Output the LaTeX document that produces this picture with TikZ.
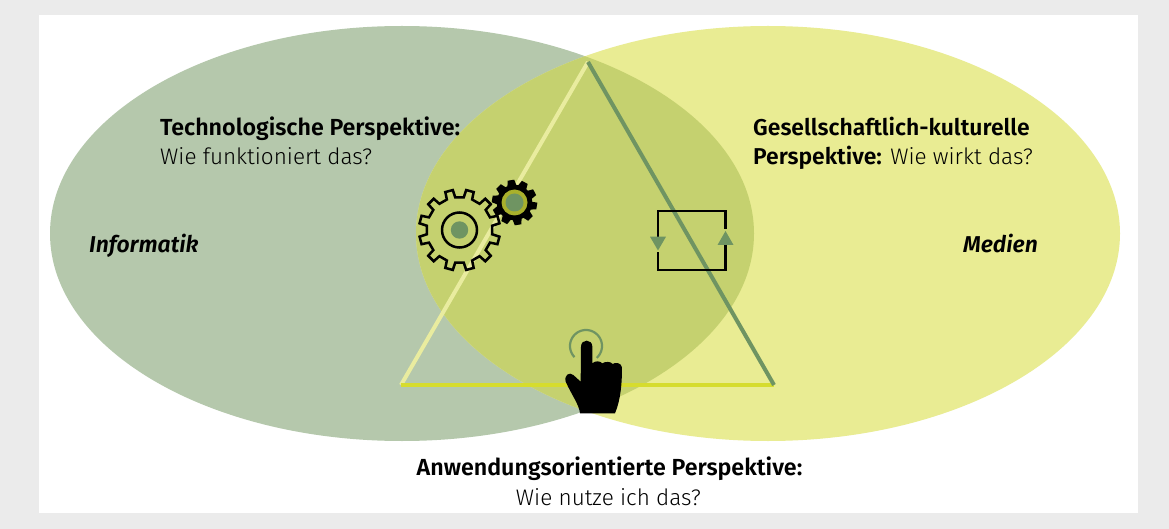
\documentclass[tikz,border=0pt]{standalone}
\usepackage{fontspec}
\setmainfont{Fira Sans Light}[BoldFont={Fira Sans SemiBold},ItalicFont={Fira Sans Light Italic},BoldItalicFont={Fira Sans SemiBold Italic},Ligatures=TeX]
\definecolor{pagebg}{HTML}{EBEBEB}
\definecolor{leftc}{HTML}{B5C8AC}
\definecolor{rightc}{HTML}{E9EC93}
\definecolor{midc}{HTML}{C5D16F}
\definecolor{greenc}{HTML}{6F9462}
\definecolor{triy}{HTML}{D6DC2E}
\definecolor{tril}{HTML}{E9EC9F}
\definecolor{ringc}{HTML}{A9B02C}
\newcommand{\bt}[1]{{\fontsize{22.9}{24}\selectfont\bfseries #1}}
\newcommand{\btw}[1]{{\fontsize{23.25}{24}\selectfont\bfseries #1}}
\tikzset{
 lbl/.style={inner sep=0pt,anchor=base west,font=\fontsize{22.5}{24}\selectfont,text=black},
 lblc/.style={inner sep=0pt,anchor=base,font=\fontsize{22.5}{24}\selectfont,text=black},
 triline/.style={line width=4pt,line cap=butt},
 loopline/.style={line width=2.2pt,black},
 tip/.style={fill=greenc,draw=none},
 gearline/.style={draw=black,line width=2.5pt,line join=miter},
}
\begin{document}
\begin{tikzpicture}[x=1pt,y=-1pt]
\useasboundingbox (0,0) rectangle (1169,529);
\fill[pagebg] (0,0) rectangle (1169,529);
\fill[white] (39,15) rectangle (1138,513);
% ellipses
\fill[leftc] (402,233.5) ellipse [x radius=352,y radius=207.5];
\fill[rightc] (768,233.5) ellipse [x radius=352,y radius=207.5];
\begin{scope}
\clip (402,233.5) ellipse [x radius=352,y radius=207.5];
\fill[midc] (768,233.5) ellipse [x radius=352,y radius=207.5];
\end{scope}
% triangle
\coordinate (top) at (588,62);
\coordinate (bl) at (401,385);
\coordinate (br) at (774,385);
\draw[triline,tril] (bl) -- (top);
\draw[triline,triy] (bl) -- (br);
\draw[triline,greenc] (top) -- (br);
% large gear: 12 teeth
\begin{scope}[shift={(459.5,230)}]
\path[gearline] (7.5:33) \foreach \k in {0,...,11} {
   -- (\k*30+15-5.5:40.5) -- (\k*30+15+5.5:40.5) -- (\k*30+30-7.5:33) -- (\k*30+30+7.5:33) } -- cycle;
\end{scope}
% small gear: 10 teeth
\begin{scope}[shift={(514.5,202.5)}]
\path[gearline,fill=black,line width=1.5pt] (0:17) \foreach \k in {0,...,9} {
   -- (\k*36+9-7:22) -- (\k*36+9+7:22) -- (\k*36+27-5:17) -- (\k*36+27+5:17) } -- cycle;
\end{scope}
\draw[black,line width=2.5pt] (459.5,230) circle [radius=17.5];
\fill[greenc] (459.5,230) circle [radius=8.7];
\fill[ringc] (514.5,202.5) circle [radius=13];
\fill[greenc] (514.5,202.5) circle [radius=9];
% loop
\coordinate (l1) at (658,238);
\coordinate (l2) at (658,211);
\coordinate (l3) at (725.5,211);
\coordinate (l4) at (725.5,229);
\coordinate (l5) at (725.5,245);
\coordinate (l6) at (725.5,270);
\coordinate (l7) at (658,270);
\coordinate (l8) at (658,252);
\draw[loopline] (l1) -- (l2) -- (l3) -- (l4);
\draw[loopline] (l5) -- (l6) -- (l7) -- (l8);
\fill[tip] (650,236.7) -- (666,236.7) -- (658,250.5) -- cycle;
\fill[tip] (717.5,245) -- (733.5,245) -- (725.5,231) -- cycle;
% touch ring
\draw[greenc,line width=2.2pt] plot[domain=136:408,samples=50,smooth] ({586+16*cos(\x)},{346+16*sin(\x)});
% hand
\begin{scope}[shift={(530,320)},x=0.3333pt,y=-0.3333pt]
\fill[black] (153,80) .. controls (153,56) and (187,56) .. (187,80)
 -- (187,130) .. controls (195,122) and (210,122) .. (217,130)
 .. controls (225,124) and (243,124) .. (248,132)
 .. controls (255,126) and (274,128) .. (276,142)
 .. controls (276,190) and (272,240) .. (255,280)
 -- (150,280) .. controls (148,255) and (125,225) .. (107,185)
 .. controls (102,165) and (118,155) .. (130,165)
 -- (152,185) -- cycle;
\end{scope}
% text
\node[lbl] (t1) at (160,136) {\btw{Technologische Perspektive:}};
\node[lbl] (t2) at (160,164.5) {Wie funktioniert das?};
\node[lbl] (g1) at (753,136) {\bt{Gesellschaftlich-kulturelle}};
\node[lbl] (g2) at (753,164.5) {\bt{Perspektive:} Wie wirkt das?};
\node[lbl] (inf) at (89,253) {\bt{\itshape Informatik}};
\node[lbl,anchor=base east] (med) at (1038,253) {\bt{\itshape Medien}};
\node[lblc] (a1) at (609.5,475.5) {\btw{Anwendungsorientierte Perspektive:}};
\node[lblc] (a2) at (608.5,505) {Wie nutze ich das?};
\end{tikzpicture}
\end{document}
